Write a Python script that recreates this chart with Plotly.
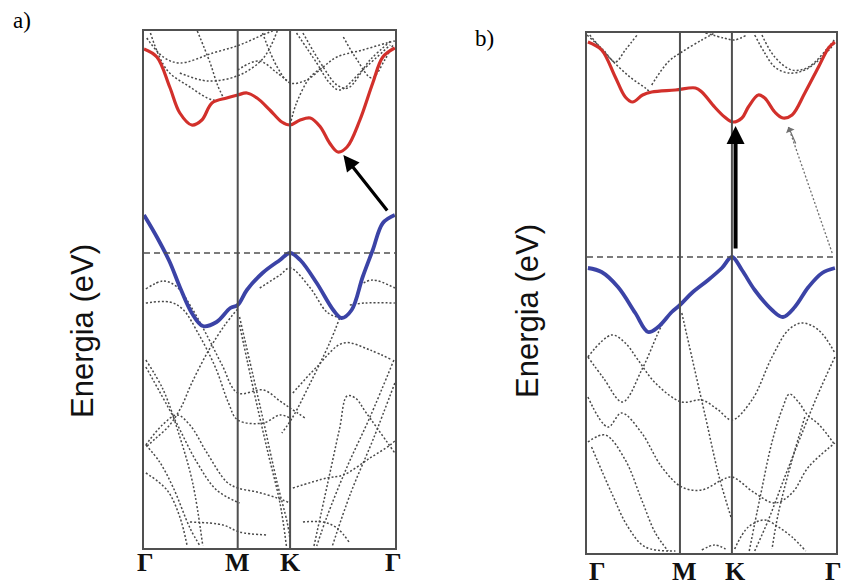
import plotly.graph_objects as go

# ---------------- k-path ticks (same for both panels) ----------------
tick_k = [0.0, 1.02, 1.59, 2.732]
tick_labels = ["Γ", "M", "K", "Γ"]
fermi_E = 0.0

# ---------------- panel a) ----------------
a_cb_k = [0.0, 0.14, 0.28, 0.39, 0.52, 0.63, 0.74, 0.90, 1.02, 1.12, 1.23, 1.37, 1.50, 1.59, 1.70, 1.81, 1.92, 2.02, 2.11, 2.21, 2.35, 2.49, 2.60, 2.73]
a_cb_E = [2.04, 1.96, 1.66, 1.40, 1.28, 1.33, 1.50, 1.55, 1.58, 1.60, 1.55, 1.43, 1.31, 1.28, 1.33, 1.35, 1.26, 1.10, 1.01, 1.06, 1.33, 1.70, 1.96, 2.05]
a_vb_k = [0.0, 0.14, 0.28, 0.39, 0.52, 0.64, 0.79, 0.94, 1.02, 1.12, 1.29, 1.48, 1.59, 1.70, 1.88, 2.06, 2.15, 2.26, 2.38, 2.49, 2.60, 2.73]
a_vb_E = [0.38, 0.16, -0.09, -0.34, -0.60, -0.73, -0.69, -0.55, -0.52, -0.37, -0.20, -0.07, 0.0, -0.07, -0.30, -0.57, -0.65, -0.57, -0.24, 0.03, 0.30, 0.38]

a_gray_c1 = [(0.03, 2.15), (0.21, 1.96), (0.39, 1.90), (0.75, 2.00), (1.04, 2.08), (1.29, 2.18), (1.40, 2.22)]
a_gray_c2 = [(0.07, 2.20), (0.25, 1.83), (0.50, 1.66), (0.75, 1.53), (0.88, 1.55)]
a_gray_c3 = [(0.58, 2.22), (0.72, 1.90), (0.80, 1.68), (0.86, 1.56)]
a_gray_c4 = [(0.39, 1.80), (0.70, 1.72), (1.04, 1.78), (1.30, 1.95), (1.45, 2.22)]
a_gray_c5 = [(1.29, 2.20), (1.45, 1.86), (1.59, 1.70), (1.77, 1.73), (1.95, 1.86), (2.10, 1.96), (2.38, 2.03), (2.64, 2.10), (2.73, 2.12)]
a_gray_c6 = [(1.66, 2.20), (1.88, 1.90), (2.02, 1.70), (2.13, 1.63), (2.38, 1.83), (2.68, 2.08)]
a_gray_c7 = [(1.73, 2.20), (1.95, 1.86), (2.10, 1.68), (2.22, 1.65), (2.46, 1.93), (2.70, 2.13)]
a_gray_c8 = [(1.59, 1.28), (1.66, 1.50), (1.81, 1.76), (1.95, 1.86)]
a_gray_c9 = [(2.17, 2.16), (2.32, 1.93), (2.48, 1.75), (2.62, 1.93), (2.71, 2.08)]
a_gray_c10 = [(1.02, 1.83), (1.25, 1.92), (1.45, 1.80), (1.59, 1.70)]

a_gray_v1 = [(0.02, -0.36), (0.21, -0.28), (0.36, -0.34), (0.52, -0.55), (0.70, -0.85), (0.85, -1.12), (1.02, -1.40), (1.30, -1.37), (1.48, -1.48), (1.59, -1.55), (1.77, -1.66)]
a_gray_v2 = [(0.02, -0.50), (0.28, -0.49), (0.42, -0.56), (0.60, -0.82), (0.78, -1.15), (0.92, -1.50), (1.02, -1.67), (1.30, -1.70), (1.48, -1.62), (1.59, -1.65)]
a_gray_v3 = [(1.02, -0.56), (0.88, -0.72), (0.70, -0.98), (0.52, -1.30), (0.40, -1.55), (0.28, -1.72), (0.12, -1.86), (0.02, -1.94)]
a_gray_v4 = [(0.02, -1.92), (0.20, -1.72), (0.36, -1.62), (0.50, -1.72), (0.68, -1.99), (0.90, -2.29), (1.02, -2.35), (1.23, -2.39), (1.45, -2.45), (1.59, -2.50)]
a_gray_v5 = [(0.02, -1.92), (0.17, -2.09), (0.32, -2.35), (0.50, -2.75), (0.61, -2.93)]
a_gray_v6 = [(0.02, -1.07), (0.21, -1.37), (0.39, -1.84), (0.53, -2.30), (0.64, -2.93)]
a_gray_v7 = [(0.02, -1.14), (0.32, -1.64), (0.58, -2.10), (0.79, -2.37), (1.04, -2.50)]
a_gray_v8 = [(0.02, -2.20), (0.25, -2.37), (0.39, -2.64), (0.47, -2.93)]
a_gray_v9 = [(0.50, -2.69), (0.86, -2.72), (1.04, -2.79), (1.34, -2.82)]
a_gray_v10 = [(1.04, -0.64), (1.29, -1.64), (1.45, -2.30), (1.56, -2.70), (1.59, -2.87)]
a_gray_v11 = [(1.04, -0.72), (1.20, -1.40), (1.35, -2.00), (1.48, -2.50), (1.55, -2.93)]
a_gray_v12 = [(1.62, -1.40), (1.88, -1.14), (2.17, -0.90), (2.46, -0.97), (2.70, -1.07)]
a_gray_v13 = [(2.13, -0.65), (2.02, -0.90), (1.81, -1.30), (1.62, -1.64), (1.50, -1.80)]
a_gray_v14 = [(1.26, -0.35), (1.48, -0.22), (1.59, -0.15), (1.81, -0.35), (1.99, -0.59), (2.13, -0.65)]
a_gray_v15 = [(2.35, -0.32), (2.49, -0.27), (2.73, -0.35)]
a_gray_v16 = [(2.24, -0.52), (2.41, -0.50), (2.73, -0.50)]
a_gray_v17 = [(2.72, -1.07), (2.46, -1.64), (2.21, -2.14), (1.99, -2.64), (1.88, -2.93)]
a_gray_v18 = [(2.73, -1.30), (2.50, -1.85), (2.25, -2.40), (2.05, -2.93)]
a_gray_v19 = [(1.85, -2.93), (2.00, -2.30), (2.13, -1.75), (2.21, -1.43), (2.30, -1.45), (2.42, -1.60), (2.73, -2.00)]
a_gray_v20 = [(1.62, -2.35), (1.99, -2.25), (2.17, -2.22), (2.46, -2.05), (2.68, -1.92), (2.73, -1.88)]
a_gray_v21 = [(1.73, -2.69), (1.95, -2.69), (2.10, -2.75), (2.24, -2.90)]

a_arrow_tail = (2.66, 0.41)
a_arrow_tip = (2.17, 0.98)

# ---------------- panel b) ----------------
b_cb_k = [0.01, 0.16, 0.31, 0.42, 0.50, 0.61, 0.71, 0.97, 1.19, 1.26, 1.40, 1.51, 1.60, 1.70, 1.77, 1.88, 1.95, 2.06, 2.15, 2.25, 2.39, 2.54, 2.65, 2.72]
b_cb_E = [2.15, 2.07, 1.80, 1.60, 1.55, 1.62, 1.65, 1.67, 1.69, 1.65, 1.50, 1.40, 1.35, 1.39, 1.50, 1.62, 1.59, 1.45, 1.39, 1.42, 1.64, 1.90, 2.09, 2.15]
b_vb_k = [0.01, 0.16, 0.34, 0.53, 0.67, 0.78, 0.93, 1.02, 1.15, 1.33, 1.48, 1.59, 1.70, 1.84, 2.03, 2.15, 2.28, 2.43, 2.58, 2.72]
b_vb_E = [-0.11, -0.15, -0.30, -0.56, -0.75, -0.70, -0.55, -0.48, -0.36, -0.23, -0.11, 0.0, -0.13, -0.33, -0.53, -0.60, -0.50, -0.30, -0.16, -0.11]

b_gray_c1 = [(0.0, 2.22), (0.18, 2.07), (0.31, 1.95), (0.42, 2.07), (0.55, 2.22)]
b_gray_c2 = [(0.03, 2.22), (0.25, 1.99), (0.47, 1.80), (0.64, 1.69), (0.69, 1.65)]
b_gray_c3 = [(0.71, 1.72), (0.89, 1.95), (1.04, 2.05), (1.26, 2.17), (1.40, 2.24)]
b_gray_c4 = [(1.84, 2.22), (1.95, 2.04), (2.06, 1.90), (2.21, 1.84), (2.39, 1.87), (2.58, 2.00), (2.72, 2.14)]
b_gray_c5 = [(1.92, 2.22), (2.06, 2.00), (2.25, 1.87), (2.43, 1.90), (2.65, 2.10), (2.72, 2.18)]
b_gray_c6 = [(1.30, 2.24), (1.50, 2.19), (1.62, 2.17), (1.75, 2.22)]

b_gray_v1 = [(0.01, -1.00), (0.27, -0.78), (0.42, -0.86), (0.56, -1.03), (0.75, -1.26), (1.04, -1.45), (1.26, -1.43), (1.44, -1.53), (1.59, -1.63), (1.81, -1.43), (2.03, -1.00), (2.21, -0.73), (2.36, -0.66), (2.54, -0.73), (2.72, -0.96)]
b_gray_v2 = [(0.01, -1.00), (0.18, -1.21), (0.39, -1.45), (0.60, -1.13), (0.77, -0.78), (0.85, -0.62)]
b_gray_v3 = [(0.01, -1.40), (0.23, -1.70), (0.38, -1.56), (0.60, -1.76), (0.82, -2.10), (1.04, -2.30), (1.26, -2.33), (1.48, -2.23), (1.59, -2.20), (1.84, -2.36), (2.06, -2.46), (2.25, -2.36), (2.43, -2.10), (2.72, -1.86)]
b_gray_v4 = [(0.01, -1.85), (0.20, -1.78), (0.42, -2.03), (0.60, -2.43), (0.75, -2.76), (0.89, -2.94)]
b_gray_v5 = [(0.05, -1.90), (0.27, -2.36), (0.45, -2.70), (0.64, -2.90), (0.97, -2.94)]
b_gray_v6 = [(1.04, -0.56), (1.15, -1.00), (1.30, -1.60), (1.45, -2.20), (1.59, -2.63)]
b_gray_v7 = [(1.78, -2.94), (1.90, -2.40), (2.03, -1.85), (2.15, -1.50), (2.22, -1.37), (2.32, -1.45), (2.42, -1.58), (2.55, -1.68), (2.72, -1.88)]
b_gray_v8 = [(2.72, -1.00), (2.54, -1.36), (2.36, -1.76), (2.17, -2.20), (1.99, -2.63), (1.84, -2.94)]
b_gray_v9 = [(2.39, -1.60), (2.25, -2.03), (2.10, -2.56), (2.03, -2.92)]
b_gray_v10 = [(1.62, -2.92), (1.77, -2.70), (1.95, -2.63), (2.10, -2.70), (2.25, -2.80), (2.40, -2.94)]
b_gray_v11 = [(1.26, -2.93), (1.40, -2.88), (1.52, -2.92)]

b_arrow_tail = (1.63, 0.07)
b_arrow_tip = (1.63, 1.31)
b_dotarrow_tail = (2.69, 0.04)
b_dotarrow_tip = (2.21, 1.30)

a_gray = [a_gray_c1, a_gray_c2, a_gray_c3, a_gray_c4, a_gray_c5, a_gray_c6, a_gray_c7, a_gray_c8,
          a_gray_c9, a_gray_c10, a_gray_v1, a_gray_v2, a_gray_v3, a_gray_v4, a_gray_v5, a_gray_v6,
          a_gray_v7, a_gray_v8, a_gray_v9, a_gray_v10, a_gray_v11, a_gray_v12, a_gray_v13, a_gray_v14,
          a_gray_v15, a_gray_v16, a_gray_v17, a_gray_v18, a_gray_v19, a_gray_v20, a_gray_v21]
b_gray = [b_gray_c1, b_gray_c2, b_gray_c3, b_gray_c4, b_gray_c5, b_gray_c6, b_gray_v1, b_gray_v2,
          b_gray_v3, b_gray_v4, b_gray_v5, b_gray_v6, b_gray_v7, b_gray_v8, b_gray_v9, b_gray_v10, b_gray_v11]

GRAY = "#4a4a4a"
FRAME = "#505050"
RED = "#d2302b"
BLUE = "#3b43a6"

fig = go.Figure()


def add_band(pts, xa, ya):
    fig.add_trace(go.Scatter(x=[p[0] for p in pts], y=[p[1] for p in pts], mode="lines",
                             line=dict(color=GRAY, width=1.5, dash="2px,2px", shape="spline", smoothing=1.0),
                             xaxis=xa, yaxis=ya, hoverinfo="skip", showlegend=False))


for pts in a_gray:
    add_band(pts, "x", "y")
for pts in b_gray:
    add_band(pts, "x2", "y2")

for k, e, col, w, xa, ya in [(a_cb_k, a_cb_E, RED, 3.2, "x", "y"), (a_vb_k, a_vb_E, BLUE, 3.8, "x", "y"),
                             (b_cb_k, b_cb_E, RED, 3.2, "x2", "y2"), (b_vb_k, b_vb_E, BLUE, 3.8, "x2", "y2")]:
    fig.add_trace(go.Scatter(x=k, y=e, mode="lines", line=dict(color=col, width=w, shape="spline", smoothing=1.0),
                             xaxis=xa, yaxis=ya, hoverinfo="skip", showlegend=False))

# dotted indirect transition in b
fig.add_trace(go.Scatter(x=[b_dotarrow_tail[0], b_dotarrow_tip[0]], y=[b_dotarrow_tail[1], b_dotarrow_tip[1]],
                         mode="lines", line=dict(color="#707070", width=1.3, dash="2px,2px"),
                         xaxis="x2", yaxis="y2", hoverinfo="skip", showlegend=False))

shapes = []
for xr, yr in [("x", "y"), ("x2", "y2")]:
    for kk in tick_k[1:3]:
        shapes.append(dict(type="line", xref=xr, yref=yr + " domain", x0=kk, x1=kk, y0=0, y1=1,
                           line=dict(color=FRAME, width=2)))
    shapes.append(dict(type="line", xref=xr + " domain", yref=yr, x0=0, x1=1, y0=fermi_E, y1=fermi_E,
                       line=dict(color="#505050", width=1.5, dash="6px,4px")))

ann = []
# panel letters
ann.append(dict(text="a)", x=11 / 841, y=1 - 6 / 588, xref="paper", yref="paper", xanchor="left", yanchor="top",
                showarrow=False, font=dict(family="Liberation Serif", size=23, color="black")))
ann.append(dict(text="b)", x=473 / 841, y=1 - 24 / 588, xref="paper", yref="paper", xanchor="left", yanchor="top",
                showarrow=False, font=dict(family="Liberation Serif", size=23, color="black")))
# y titles
for xc, yc in [(82 / 841, 1 - 331 / 588), (527 / 841, 1 - 311 / 588)]:
    ann.append(dict(text="Energia (eV)", x=xc, y=yc, xref="paper", yref="paper", textangle=-90,
                    showarrow=False, xanchor="center", yanchor="middle",
                    font=dict(family="Liberation Sans", size=31, color="#111111")))
# k-point labels
for xr, ypos, yanc, offs in [("x", 1 - 546 / 588, "top", [0.02, 0.0, 0.0, -0.02]),
                             ("x2", 0.0, "bottom", [0.12, 0.05, 0.04, -0.03])]:
    for kk, lab, o in zip(tick_k, tick_labels, offs):
        ann.append(dict(text="<b>" + lab + "</b>", x=kk + o, y=ypos, xref=xr, yref="paper", xanchor="center",
                        yanchor=yanc, showarrow=False,
                        font=dict(family="Liberation Serif", size=26, color="#111111")))
# arrows
ann.append(dict(x=a_arrow_tip[0], y=a_arrow_tip[1], ax=a_arrow_tail[0], ay=a_arrow_tail[1], xref="x", yref="y",
                axref="x", ayref="y", showarrow=True, arrowhead=2, arrowsize=1.0, arrowwidth=3.2, arrowcolor="black", text=""))
ann.append(dict(x=b_arrow_tip[0], y=b_arrow_tip[1], ax=b_arrow_tail[0], ay=b_arrow_tail[1], xref="x2", yref="y2",
                axref="x2", ayref="y2", showarrow=True, arrowhead=2, arrowsize=0.9, arrowwidth=4, arrowcolor="black", text=""))
ann.append(dict(x=b_dotarrow_tip[0], y=b_dotarrow_tip[1], ax=8, ay=18, xref="x2", yref="y2",
                showarrow=True, arrowhead=1, arrowsize=1.3, arrowwidth=1.2, arrowcolor="#707070", text=""))

axis_common = dict(showline=True, mirror=True, linecolor=FRAME, linewidth=2, showgrid=False, zeroline=False,
                   showticklabels=False, ticks="", fixedrange=True)

fig.update_layout(
    width=841, height=588, margin=dict(l=0, r=0, t=0, b=0),
    paper_bgcolor="white", plot_bgcolor="white",
    xaxis=dict(domain=[144 / 841, 395 / 841], range=[0, 2.732], **axis_common),
    yaxis=dict(domain=[1 - 548 / 588, 1 - 31 / 588], range=[-2.95, 2.22], **axis_common),
    xaxis2=dict(domain=[587 / 841, 836 / 841], range=[0, 2.732], anchor="y2", **axis_common),
    yaxis2=dict(domain=[1 - 553 / 588, 1 - 33 / 588], range=[-2.96, 2.24], anchor="x2", **axis_common),
    shapes=shapes, annotations=ann,
)

fig.write_html("out.html")
